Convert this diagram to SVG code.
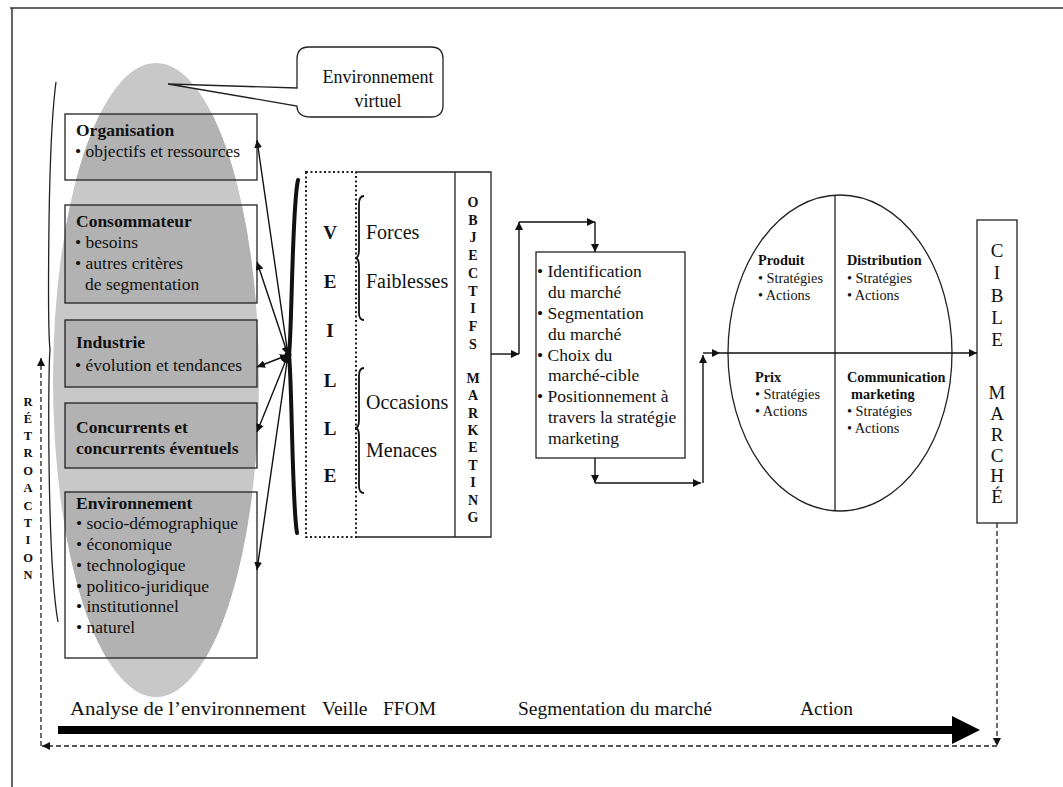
<svg xmlns="http://www.w3.org/2000/svg" width="1063" height="787" viewBox="0 0 1063 787">
  <defs>
    <style>
      .serif { font-family: "Liberation Serif", "Times New Roman", serif; fill: #111; }
      .box { fill: none; stroke: #222; stroke-width: 1.3; }
      .b { font-weight: bold; }
      .t17 { font-size: 17.5px; }
      .q { font-size: 14.3px; }
      .ln { fill: none; stroke: #111; stroke-width: 1.4; }
      .dash { fill: none; stroke: #222; stroke-width: 1.3; stroke-dasharray: 5 3; }
      .dot { fill: none; stroke: #222; stroke-width: 2; stroke-dasharray: 2 2.5; }
    </style>
    <marker id="ah" viewBox="0 0 10 10" refX="10" refY="5" markerWidth="8" markerHeight="8" markerUnits="userSpaceOnUse" orient="auto-start-reverse">
      <path d="M0,0 L10,5 L0,10 z" fill="#111"/>
    </marker>
    <clipPath id="cloud">
      <ellipse cx="156" cy="380" rx="103" ry="317"/>
    </clipPath>
  </defs>

  <!-- outer frame (top and left edges) -->
  <path d="M10,8 H1063 M12,8 V787" fill="none" stroke="#333" stroke-width="1.5"/>

  <!-- shaded "virtual environment" zone -->
  <g id="virtual-zone">
    <ellipse cx="156" cy="380" rx="103" ry="317" fill="#c8c8c8"/>
    <g clip-path="url(#cloud)" fill="#b2b2b2">
      <rect x="65" y="114" width="192" height="66"/>
      <rect x="65" y="205" width="192" height="98"/>
      <rect x="65" y="320" width="192" height="67"/>
      <rect x="65" y="403" width="192" height="65"/>
      <rect x="65" y="492" width="192" height="166"/>
    </g>
    <path d="M56,82 C47,150 48,330 50,350 C48,370 47,560 58,622" fill="none" stroke="#222" stroke-width="1.3"/>
  </g>

  <!-- callout -->
  <g id="callout">
    <path d="M309,47 H431 Q443,47 443,59 V105 Q443,117 431,117 H311 Q297,117 297,106 L168,84 L297,88 V59 Q297,47 309,47 Z" fill="#fff" stroke="#222" stroke-width="1.3"/>
    <text class="serif" x="378" y="83" font-size="18" text-anchor="middle">Environnement</text>
    <text class="serif" x="378" y="107" font-size="18" text-anchor="middle">virtuel</text>
  </g>

  <!-- left column -->
  <g id="organisation">
    <rect class="box" x="65" y="114" width="192" height="66"/>
    <text class="serif t17 b" x="76" y="136">Organisation</text>
    <text class="serif t17" x="75" y="157">• objectifs et ressources</text>
  </g>
  <g id="consommateur">
    <rect class="box" x="65" y="205" width="192" height="98"/>
    <text class="serif t17 b" x="76" y="227">Consommateur</text>
    <text class="serif t17" x="75" y="248">• besoins</text>
    <text class="serif t17" x="75" y="269">• autres critères</text>
    <text class="serif t17" x="85" y="290">de segmentation</text>
  </g>
  <g id="industrie">
    <rect class="box" x="65" y="320" width="192" height="67"/>
    <text class="serif t17 b" x="76" y="348">Industrie</text>
    <text class="serif t17" x="75" y="371">• évolution et tendances</text>
  </g>
  <g id="concurrents">
    <rect class="box" x="65" y="403" width="192" height="65"/>
    <text class="serif t17 b" x="76" y="433">Concurrents et</text>
    <text class="serif t17 b" x="76" y="454">concurrents éventuels</text>
  </g>
  <g id="environnement">
    <rect class="box" x="65" y="492" width="192" height="166"/>
    <text class="serif t17 b" x="76" y="509">Environnement</text>
    <text class="serif t17" x="76" y="529">• socio-démographique</text>
    <text class="serif t17" x="76" y="550">• économique</text>
    <text class="serif t17" x="76" y="571">• technologique</text>
    <text class="serif t17" x="76" y="592">• politico-juridique</text>
    <text class="serif t17" x="76" y="612">• institutionnel</text>
    <text class="serif t17" x="76" y="633">• naturel</text>
  </g>

  <!-- RÉTROACTION label -->
  <g id="retroaction" class="serif b" font-size="12.5" text-anchor="middle">
    <text x="28" y="406">R</text>
    <text x="28" y="423">É</text>
    <text x="28" y="440">T</text>
    <text x="28" y="457">R</text>
    <text x="28" y="475">O</text>
    <text x="28" y="492">A</text>
    <text x="28" y="510">C</text>
    <text x="28" y="527">T</text>
    <text x="28" y="544">I</text>
    <text x="28" y="562">O</text>
    <text x="28" y="579">N</text>
  </g>

  <!-- veille / FFOM / objectifs -->
  <g id="veille">
    <path d="M298,180 C292,205 292,330 289,355 C292,380 292,505 297,533" fill="none" stroke="#111" stroke-width="4" stroke-linecap="round"/>
    <path d="M356,172 H491 V537 H356" class="box"/>
    <rect class="dot" x="306" y="172" width="50" height="365"/>
    <line x1="455" y1="172" x2="455" y2="537" stroke="#222" stroke-width="1.3"/>
    <g class="serif b" font-size="19" text-anchor="middle">
      <text x="330" y="239">V</text>
      <text x="330" y="288">E</text>
      <text x="330" y="337">I</text>
      <text x="330" y="387">L</text>
      <text x="330" y="435">L</text>
      <text x="330" y="482">E</text>
    </g>
    <path d="M364,196 Q359,196 359,204 L359,250 Q359,258 355,258 Q359,258 359,266 L359,313 Q359,320 364,320" fill="none" stroke="#111" stroke-width="1.8"/>
    <path d="M364,368 Q359,368 359,376 L359,420 Q359,428 355,428 Q359,428 359,436 L359,486 Q359,493 364,493" fill="none" stroke="#111" stroke-width="1.8"/>
    <g class="serif" font-size="20">
      <text x="366" y="239">Forces</text>
      <text x="366" y="288">Faiblesses</text>
      <text x="366" y="409">Occasions</text>
      <text x="366" y="457">Menaces</text>
    </g>
    <g class="serif b" font-size="14" text-anchor="middle">
      <text x="473" y="207">O</text>
      <text x="473" y="225">B</text>
      <text x="473" y="242">J</text>
      <text x="473" y="260">E</text>
      <text x="473" y="278">C</text>
      <text x="473" y="296">T</text>
      <text x="473" y="313">I</text>
      <text x="473" y="331">F</text>
      <text x="473" y="349">S</text>
      <text x="473" y="383">M</text>
      <text x="473" y="400">A</text>
      <text x="473" y="418">R</text>
      <text x="473" y="435">K</text>
      <text x="473" y="452">E</text>
      <text x="473" y="470">T</text>
      <text x="473" y="487">I</text>
      <text x="473" y="505">N</text>
      <text x="473" y="522">G</text>
    </g>
  </g>

  <!-- market segmentation -->
  <g id="segmentation">
    <rect x="536" y="252" width="149" height="206" fill="#fff" stroke="#222" stroke-width="1.3"/>
    <g class="serif t17">
      <text x="537" y="277">• Identification</text>
      <text x="548" y="298">du marché</text>
      <text x="537" y="319">• Segmentation</text>
      <text x="548" y="340">du marché</text>
      <text x="537" y="361">• Choix du</text>
      <text x="548" y="381">marché-cible</text>
      <text x="537" y="402">• Positionnement à</text>
      <text x="548" y="423">travers la stratégie</text>
      <text x="548" y="444">marketing</text>
    </g>
  </g>

  <!-- marketing mix -->
  <g id="marketing-mix">
    <ellipse cx="840" cy="353" rx="112" ry="158" fill="none" stroke="#222" stroke-width="1.3"/>
    <line x1="835" y1="195" x2="835" y2="511" stroke="#222" stroke-width="1.3"/>
    <g class="serif q">
      <text x="758" y="265" class="b">Produit</text>
      <text x="758" y="283">• Stratégies</text>
      <text x="758" y="300">• Actions</text>
      <text x="847" y="265" class="b">Distribution</text>
      <text x="847" y="283">• Stratégies</text>
      <text x="847" y="300">• Actions</text>
      <text x="755" y="382" class="b">Prix</text>
      <text x="755" y="399">• Stratégies</text>
      <text x="755" y="416">• Actions</text>
      <text x="847" y="382" class="b">Communication</text>
      <text x="851" y="399" class="b">marketing</text>
      <text x="847" y="416">• Stratégies</text>
      <text x="847" y="433">• Actions</text>
    </g>
  </g>

  <!-- target market -->
  <g id="cible-marche">
    <rect x="977" y="220" width="40" height="303" fill="#fff" stroke="#222" stroke-width="1.3"/>
    <g class="serif" font-size="19" text-anchor="middle">
      <text x="997" y="257">C</text>
      <text x="997" y="279">I</text>
      <text x="997" y="302">B</text>
      <text x="997" y="324">L</text>
      <text x="997" y="346">E</text>
      <text x="997" y="399">M</text>
      <text x="997" y="420">A</text>
      <text x="997" y="441">R</text>
      <text x="997" y="462">C</text>
      <text x="997" y="482">H</text>
      <text x="997" y="503">É</text>
    </g>
  </g>

  <!-- phase timeline -->
  <g id="timeline">
    <g class="serif" font-size="19.5">
      <text x="70" y="715" textLength="236" lengthAdjust="spacingAndGlyphs">Analyse de l’environnement</text>
      <text x="322" y="715">Veille</text>
      <text x="383" y="715">FFOM</text>
      <text x="518" y="715">Segmentation du marché</text>
      <text x="800" y="715">Action</text>
    </g>
    <path d="M58,726 H952 V716 L980,730 L952,744 V734 H58 Z" fill="#000"/>
  </g>

  <!-- connectors -->
  <g id="connectors">
    <g class="ln" marker-start="url(#ah)" marker-end="url(#ah)" stroke-width="1.2">
      <line x1="288" y1="355" x2="257" y2="140"/>
      <line x1="288" y1="355" x2="257" y2="262"/>
      <line x1="288" y1="355" x2="257" y2="367"/>
      <line x1="288" y1="355" x2="257" y2="432"/>
      <line x1="288" y1="355" x2="257" y2="570"/>
    </g>
    <circle cx="288" cy="355" r="3.5" fill="#111"/>
    <g class="ln" marker-end="url(#ah)">
      <line x1="491" y1="354" x2="519" y2="354"/>
      <line x1="519" y1="354" x2="519" y2="222"/>
      <line x1="519" y1="222" x2="595" y2="222"/>
      <line x1="595" y1="222" x2="595" y2="252"/>
      <line x1="595" y1="458" x2="595" y2="483"/>
      <line x1="595" y1="483" x2="701" y2="483"/>
      <line x1="703" y1="483" x2="703" y2="355"/>
      <line x1="703" y1="353" x2="720" y2="353"/>
      <line x1="720" y1="353" x2="977" y2="353"/>
    </g>
    <path class="dash" d="M997,523 V746" marker-end="url(#ah)"/>
    <path class="dash" d="M997,746 H42" marker-end="url(#ah)"/>
    <path class="dash" d="M41,746 V358" marker-end="url(#ah)"/>
  </g>
</svg>
